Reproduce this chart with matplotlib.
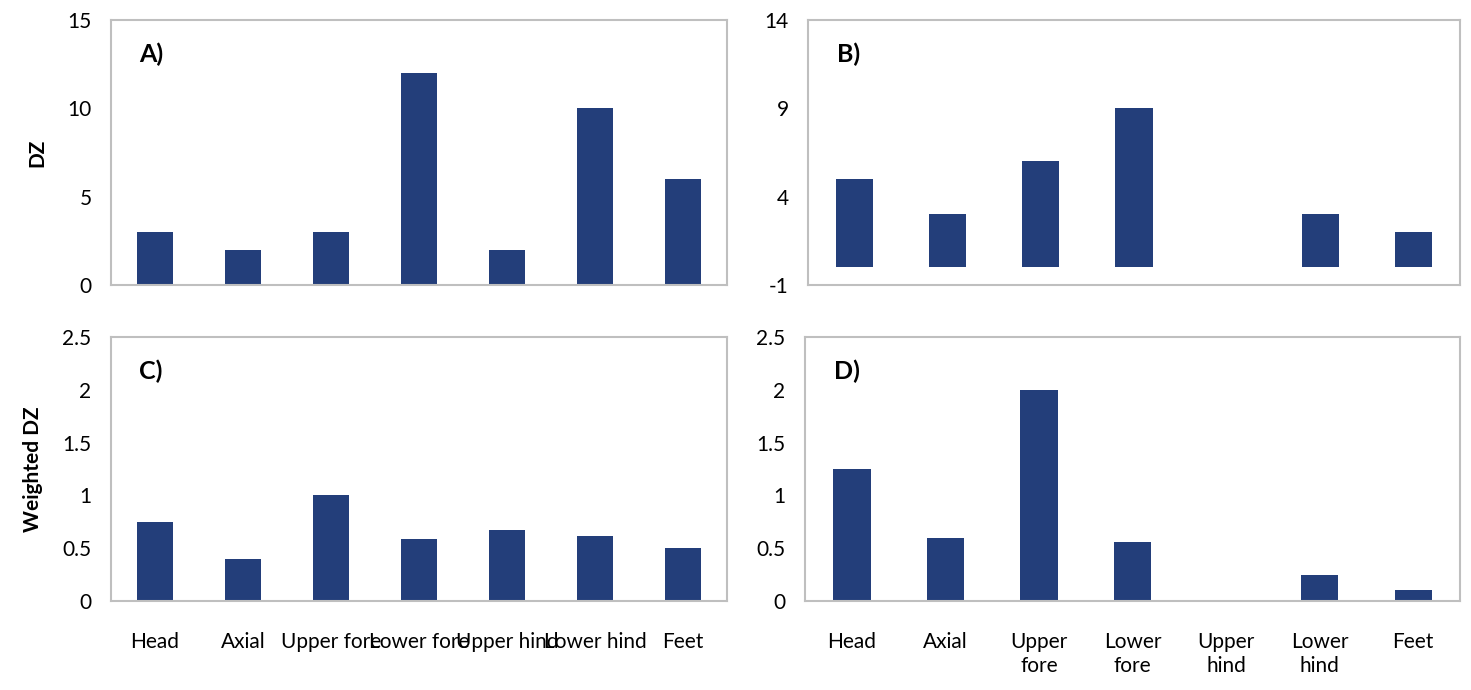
#!/usr/bin/env python3
import matplotlib as mpl
import matplotlib.pyplot as plt

mpl.rcParams.update({
    "font.family": ["Lato", "DejaVu Sans"],
    "font.size": 15,
    "xtick.labelsize": 15,
    "ytick.labelsize": 15,
})

# Data
regions = ["Head", "Axial", "Upper fore", "Lower fore", "Upper hind", "Lower hind", "Feet"]
regions_wrapped = ["Head", "Axial", "Upper\nfore", "Lower\nfore", "Upper\nhind", "Lower\nhind", "Feet"]

dz_a = [3, 2, 3, 12, 2, 10, 6]
dz_b = [5, 3, 6, 9, 0, 3, 2]
wdz_c = [0.75, 0.40, 1.0, 0.59, 0.67, 0.62, 0.50]
wdz_d = [1.25, 0.60, 2.0, 0.56, 0.0, 0.25, 0.10]

yticks_a = [0, 5, 10, 15]
yticks_b = [-1, 4, 9, 14]
yticks_cd = [0, 0.5, 1, 1.5, 2, 2.5]

BAR = "#233E7A"
EDGE = "#BFBFBF"

W, H = 1471, 690
fig = plt.figure(figsize=(W / 100, H / 100), dpi=100)


def px_axes(x0, x1, y0, y1):
    return fig.add_axes([x0 / W, 1 - y1 / H, (x1 - x0) / W, (y1 - y0) / H])


def style(ax, ticks, lim, tag):
    ax.set_ylim(*lim)
    ax.set_yticks(ticks)
    ax.set_yticklabels([f"{t:g}" for t in ticks])
    ax.set_xlim(-0.5, len(regions) - 0.5)
    for s in ax.spines.values():
        s.set_color(EDGE)
        s.set_linewidth(1.5)
    ax.tick_params(length=0, pad=14)
    ax.text(0.045, 0.87, tag, transform=ax.transAxes, fontsize=18,
            fontweight="bold", va="center", ha="left")


x = range(len(regions))

ax_a = px_axes(111, 727, 20, 285)
ax_a.bar(x, dz_a, width=0.4, color=BAR)
style(ax_a, yticks_a, (0, 15), "A)")
ax_a.set_xticks([])
ax_a.set_ylabel("DZ", fontweight="bold", labelpad=14)

ax_b = px_axes(808, 1460, 20, 285)
ax_b.bar(x, dz_b, width=0.4, color=BAR)
style(ax_b, yticks_b, (-1, 14), "B)")
ax_b.set_xticks([])

ax_c = px_axes(111, 727, 337, 601)
ax_c.bar(x, wdz_c, width=0.4, color=BAR)
style(ax_c, yticks_cd, (0, 2.5), "C)")
ax_c.set_xticks(list(x))
ax_c.set_xticklabels(regions)
ax_c.tick_params(axis="x", pad=22)
ax_c.set_ylabel("Weighted DZ", fontweight="bold", labelpad=14)

ax_d = px_axes(805, 1460, 337, 601)
ax_d.bar(x, wdz_d, width=0.4, color=BAR)
style(ax_d, yticks_cd, (0, 2.5), "D)")
ax_d.set_xticks(list(x))
ax_d.set_xticklabels(regions_wrapped, va="top", linespacing=1.25)
ax_d.tick_params(axis="x", pad=22)

fig.savefig("out.png", dpi=100)
